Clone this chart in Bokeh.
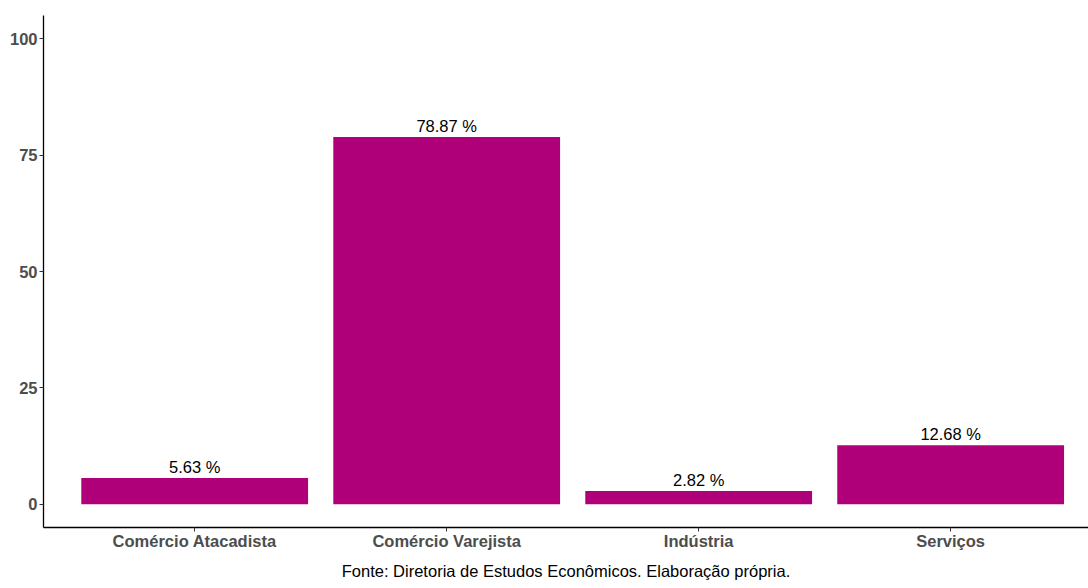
from bokeh.plotting import figure
from bokeh.models import ColumnDataSource, FixedTicker, Range1d, Title
from bokeh.embed import file_html
from bokeh.resources import INLINE
from bokeh.core.properties import value

categories = ["Comércio Atacadista", "Comércio Varejista", "Indústria", "Serviços"]
percent = [5.63, 78.87, 2.82, 12.68]
y_ticks = [0, 25, 50, 75, 100]
caption = "Fonte: Diretoria de Estudos Econômicos. Elaboração própria."

xpos = list(range(1, len(categories) + 1))
labels = [f"{v:.2f} %" for v in percent]
src = ColumnDataSource(dict(x=xpos, top=percent, label=labels))

p = figure(width=1088, height=588, output_backend="svg", toolbar_location=None,
           x_range=Range1d(0.4, 4.547), y_range=Range1d(-5, 105),
           min_border_left=43, min_border_right=0, min_border_top=15, min_border_bottom=61)
p.outline_line_color = None
p.grid.grid_line_color = None
p.background_fill_color = "white"

p.vbar(x="x", top="top", bottom=0, width=0.9, source=src,
       fill_color="#AF007A", line_color=None)
p.text(x="x", y="top", text="label", source=src, text_align="center",
       text_baseline="bottom", y_offset=-2, text_font=value("Liberation Sans"),
       text_font_size="16.5px", text_color="black")

p.xaxis.ticker = FixedTicker(ticks=xpos)
p.xaxis.major_label_overrides = {i: c for i, c in zip(xpos, categories)}
p.yaxis.ticker = FixedTicker(ticks=y_ticks)
for ax in (p.xaxis[0], p.yaxis[0]):
    ax.axis_line_color = "black"
    ax.axis_line_width = 1.3
    ax.major_tick_line_color = "#333333"
    ax.major_tick_in = 0
    ax.major_tick_out = 4
    ax.minor_tick_line_color = None
    ax.major_label_text_font = "Liberation Sans"
    ax.major_label_text_font_style = "bold"
    ax.major_label_text_font_size = "16.5px"
    ax.major_label_text_color = "#4D4D4D"
p.yaxis.major_label_standoff = 2
p.xaxis.major_label_standoff = 0

p.add_layout(Title(text=caption, align="center", text_font="Liberation Sans",
                   text_font_size="16.5px", text_font_style="normal",
                   text_color="black", standoff=15, offset=6), "below")

open("out.html", "w").write(file_html(p, INLINE))
